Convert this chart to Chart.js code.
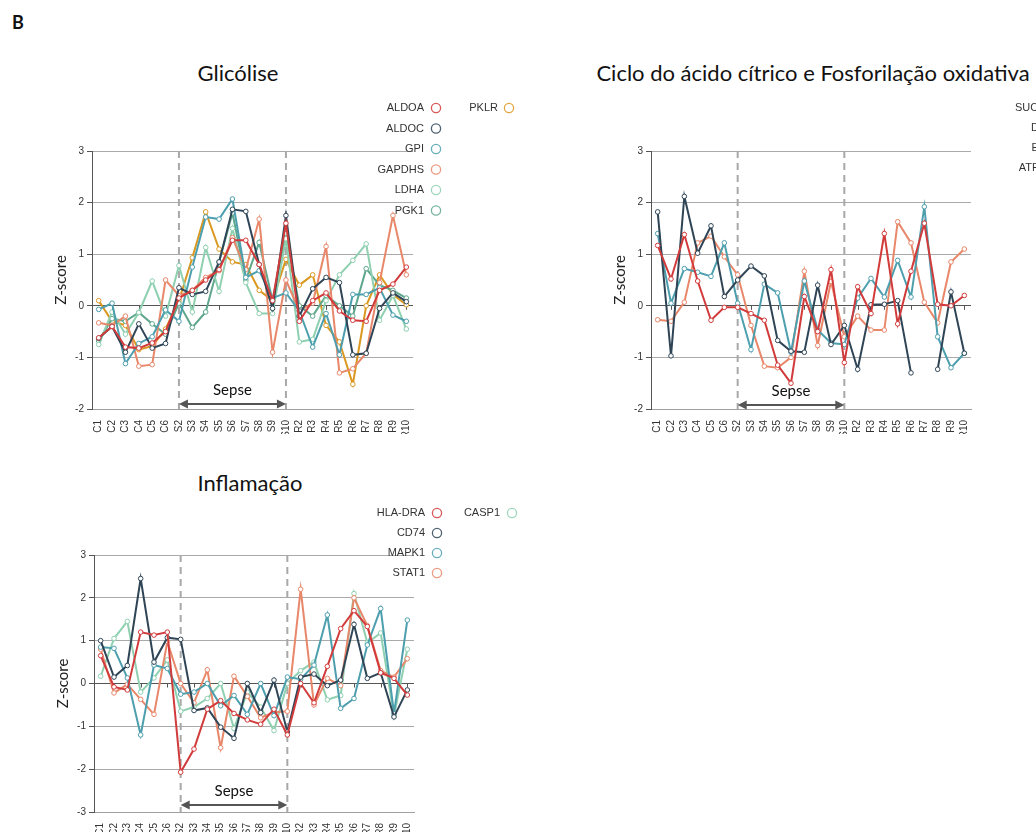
<!DOCTYPE html>
<html>
<head>
<meta charset="utf-8">
<script src="https://cdn.jsdelivr.net/npm/chart.js@4.4.1/dist/chart.umd.min.js"></script>
<style>
  body { margin: 0; background: #fff; }
  #wrap { position: relative; width: 1036px; height: 833px; overflow: hidden; }
  canvas { position: absolute; }
  .t { position: absolute; font-family: Lato, sans-serif; font-size: 22px; line-height: 22px; color: #111; white-space: nowrap; transform: translateX(-50%); }
  #lbl { position: absolute; left: 12px; top: 13px; font-family: Lato, sans-serif; font-weight: bold; font-size: 18px; line-height: 18px; color: #111; }
</style>
</head>
<body>
<div id="wrap">
  <div id="lbl">B</div>
  <div class="t" style="left:238px; top:62px;">Glicólise</div>
  <div class="t" style="left:813px; top:62px;">Ciclo do ácido cítrico e Fosforilação oxidativa</div>
  <div class="t" style="left:250px; top:472px;">Inflamação</div>
  <canvas id="glic" width="540" height="350" style="left:0; top:90px;"></canvas>
  <canvas id="ciclo" width="476" height="350" style="left:560px; top:90px;"></canvas>
  <canvas id="infl" width="540" height="338" style="left:0; top:495px;"></canvas>
</div>
<script>
// amostras: controles, sepse, recuperação
const amostras = ['C1','C2','C3','C4','C5','C6','S2','S3','S4','S5','S6','S7','S8','S9','S10','R2','R3','R4','R5','R6','R7','R8','R9','R10'];

// Glicólise
const aldoa  = [-0.62,-0.4,-0.8,-0.82,-0.72,-0.5,0.15,0.3,0.5,0.7,1.27,1.27,0.8,0.1,1.6,-0.3,0.1,0.25,-0.1,-0.28,-0.3,0.3,0.42,0.75];
const aldoc  = [-0.63,-0.4,-0.9,-0.35,-0.82,-0.73,0.35,0.22,0.28,0.85,1.87,1.83,0.8,-0.05,1.75,-0.2,0.33,0.55,0.45,-0.95,-0.92,-0.05,0.25,0.08];
const gpi    = [-0.07,0.05,-1.12,-0.73,-0.6,-0.08,-0.3,0.75,1.72,1.68,2.07,0.55,0.68,0.15,0.25,-0.1,-0.8,-0.15,-0.95,0.22,0.22,0.35,-0.18,-0.3];
const gapdhs = [-0.33,-0.38,-0.2,-1.17,-1.14,0.5,0.2,0.3,0.55,0.68,1.32,0.7,1.68,-0.9,0.5,-0.1,0.05,1.15,-1.3,-1.22,-0.92,0.45,1.75,0.6];
const ldha   = [-0.75,-0.12,-0.55,-0.13,0.48,-0.2,0.78,-0.12,1.13,0.28,1.5,0.45,-0.15,-0.15,1.3,-0.7,-0.65,0.1,0.6,0.88,1.2,-0.28,0.2,-0.45];
const pgk1   = [-0.68,-0.25,-0.3,-0.13,-0.35,-0.55,0.05,-0.42,-0.12,0.85,1.8,0.5,1.23,0.1,1.4,0.0,-0.2,0.2,0.0,-0.2,0.72,0.4,0.3,0.15];
const pklr   = [0.1,-0.3,-0.38,-0.85,-0.78,-0.45,0.1,0.93,1.82,1.1,0.85,0.8,0.3,0.1,0.9,0.4,0.6,-0.38,-0.7,-1.52,0.0,0.6,0.22,0.02];

// Ciclo do ácido cítrico e fosforilação oxidativa
const suclg1 = [1.17,0.52,1.38,0.48,-0.28,-0.03,-0.03,-0.15,-0.28,-1.15,-1.5,0.18,-0.5,0.7,-1.1,0.37,-0.15,1.4,-0.35,0.67,1.6,0.03,0.0,0.2];
const dlst   = [1.82,-0.97,2.12,1.02,1.55,0.18,0.5,0.77,0.58,-0.67,-0.88,-0.9,0.4,-0.75,-0.38,-1.23,0.02,0.03,0.1,-1.3,null,-1.23,0.27,-0.92];
const etfa   = [1.4,0.05,0.72,0.65,0.57,1.22,0.05,-0.85,0.42,0.25,-0.9,0.48,-0.47,-0.72,-0.75,0.15,0.53,0.17,0.88,0.17,1.92,-0.6,-1.2,-0.92];
const atp5a1 = [-0.27,-0.3,0.07,1.22,1.35,0.95,0.6,-0.38,-1.17,-1.2,-1.0,0.67,-0.77,0.47,-0.6,-0.2,-0.47,-0.47,1.63,1.22,0.07,-0.33,0.85,1.1];

// Inflamação
const hlaDra = [0.65,-0.08,-0.15,1.2,1.13,1.2,-2.07,-1.53,-0.6,-0.4,-0.7,-0.85,-0.95,-0.6,-1.2,0.0,-0.45,0.4,1.28,1.7,1.33,0.25,0.12,-0.27];
const cd74   = [1.0,0.15,0.42,2.45,0.5,1.07,1.03,-0.63,-0.57,-1.02,-1.28,0.0,-0.68,0.08,-1.13,0.15,0.22,-0.05,0.08,1.38,0.12,0.25,-0.78,-0.15];
const mapk1  = [0.85,0.82,0.13,-1.2,0.43,0.35,-0.25,-0.2,0.0,-0.52,-0.28,-0.72,0.0,-0.75,0.15,0.1,0.43,1.6,-0.58,-0.35,0.9,1.75,-0.7,1.48];
const stat1  = [0.8,-0.22,-0.02,-0.37,-0.72,0.98,0.0,-0.45,0.32,-1.5,0.17,-0.3,-0.8,-0.67,-0.65,2.2,-0.5,0.12,-0.05,2.0,1.35,0.3,0.15,0.58];
const casp1  = [0.17,1.05,1.45,-0.2,0.13,0.55,-0.65,-0.55,-0.35,0.0,-1.05,-0.2,-0.55,-1.1,0.0,0.3,0.5,-0.38,-0.28,2.1,0.95,1.18,-0.75,0.8];

const cor = {
  red: '#d23b3b', dark: '#2f4556', teal: '#4d9fae', salmon: '#e8876a',
  light: '#8ed0b0', green: '#5ea68c', gold: '#db9820'
};

const fonteEixo = { family: 'Liberation Sans', size: 10 };

function serie(label, data, c) {
  return {
    label: label, data: data, borderColor: c, backgroundColor: '#fff',
    borderWidth: 2, pointRadius: 2.3, pointBorderWidth: 1,
    pointBackgroundColor: '#fff', pointBorderColor: c, tension: 0, spanGaps: false
  };
}

const decor = {
  id: 'decor',
  beforeDatasetsDraw(chart, args, o) {
    const ctx = chart.ctx, a = chart.chartArea, x = chart.scales.x, y = chart.scales.y;
    const x1 = x.getPixelForValue(6), x2 = x.getPixelForValue(14);
    const y0 = y.getPixelForValue(0);
    ctx.save();
    // marcas no zero
    ctx.strokeStyle = '#555'; ctx.lineWidth = 1;
    for (let i = 1; i < amostras.length; i += 2) {
      const px = Math.round(x.getPixelForValue(i)) + 0.5;
      ctx.beginPath(); ctx.moveTo(px, y0); ctx.lineTo(px, y0 + 4); ctx.stroke();
    }
    // linhas tracejadas
    ctx.strokeStyle = '#a8a8a8'; ctx.lineWidth = 2; ctx.setLineDash([7, 5]);
    [x1, x2].forEach(px => {
      ctx.beginPath(); ctx.moveTo(px, a.top); ctx.lineTo(px, a.bottom); ctx.stroke();
    });
    ctx.setLineDash([]);
    // seta Sepse
    const ya = a.bottom - o.seta;
    ctx.strokeStyle = '#555'; ctx.fillStyle = '#555'; ctx.lineWidth = 2;
    ctx.beginPath(); ctx.moveTo(x1 + 6, ya); ctx.lineTo(x2 - 6, ya); ctx.stroke();
    ctx.beginPath(); ctx.moveTo(x1, ya); ctx.lineTo(x1 + 9, ya - 4.5); ctx.lineTo(x1 + 9, ya + 4.5); ctx.closePath(); ctx.fill();
    ctx.beginPath(); ctx.moveTo(x2, ya); ctx.lineTo(x2 - 9, ya - 4.5); ctx.lineTo(x2 - 9, ya + 4.5); ctx.closePath(); ctx.fill();
    ctx.fillStyle = '#111'; ctx.font = '15px Lato'; ctx.textAlign = 'center'; ctx.textBaseline = 'middle';
    ctx.fillText('Sepse', (x1 + x2) / 2, ya - 14);
    ctx.restore();
  },
  afterDraw(chart, args, o) {
    const ctx = chart.ctx;
    ctx.save();
    ctx.font = '11px "Liberation Sans"'; ctx.textBaseline = 'middle'; ctx.textAlign = 'right';
    chart.data.datasets.forEach((ds, i) => {
      const p = o.legenda[i];
      ctx.fillStyle = '#333';
      ctx.fillText(ds.label, p[0], p[2]);
      ctx.globalAlpha = 0.85;
      ctx.strokeStyle = ds.borderColor; ctx.lineWidth = 1.3;
      ctx.beginPath(); ctx.arc(p[1], p[2], 4.6, 0, Math.PI * 2); ctx.stroke();
      ctx.globalAlpha = 1;
    });
    ctx.restore();
  }
};

function grafico(id, datasets, ymin, ymax, pad, xAlt, seta, legenda) {
  return new Chart(document.getElementById(id), {
    type: 'line',
    data: { labels: amostras, datasets: datasets },
    plugins: [decor],
    options: {
      responsive: false, animation: false, devicePixelRatio: 1,
      layout: { padding: pad },
      plugins: {
        legend: { display: false }, tooltip: { enabled: false },
        decor: { seta: seta, legenda: legenda }
      },
      scales: {
        x: {
          offset: true,
          grid: { display: false },
          border: { color: '#a0a0a0', width: 1 },
          ticks: { autoSkip: false, minRotation: 90, maxRotation: 90, color: '#333', font: fonteEixo, padding: 3 },
          afterFit: s => { s.height = xAlt; }
        },
        y: {
          min: ymin, max: ymax,
          ticks: { stepSize: 1, color: '#333', font: fonteEixo, padding: 3 },
          grid: {
            color: c => c.tick && c.tick.value === 0 ? '#555' : '#aaa',
            lineWidth: 1, tickLength: 5, tickColor: '#555'
          },
          border: { color: '#555', width: 1 },
          title: { display: true, text: 'Z-score', color: '#222', font: { family: 'Lato', size: 15 }, padding: 0 },
          afterFit: s => { s.width = 40; }
        }
      }
    }
  });
}

const col1 = [424, 436], col2 = [498, 509];
const linhas = [18, 38.5, 59, 79.5, 100, 120.5];

grafico('glic', [
  serie('ALDOA', aldoa, cor.red),
  serie('ALDOC', aldoc, cor.dark),
  serie('GPI', gpi, cor.teal),
  serie('GAPDHS', gapdhs, cor.salmon),
  serie('LDHA', ldha, cor.light),
  serie('PGK1', pgk1, cor.green),
  serie('PKLR', pklr, cor.gold)
], -2, 3, { left: 52, right: 127, top: 61, bottom: 6 }, 25, 5,
  [[...col1, linhas[0]], [...col1, linhas[1]], [...col1, linhas[2]], [...col1, linhas[3]], [...col1, linhas[4]], [...col1, linhas[5]], [...col2, linhas[0]]]);

grafico('ciclo', [
  serie('SUCLG1', suclg1, cor.red),
  serie('DLST', dlst, cor.dark),
  serie('ETFA', etfa, cor.teal),
  serie('ATP5A1', atp5a1, cor.salmon)
], -2, 3, { left: 51, right: 65, top: 61, bottom: 6 }, 25, 4,
  [[499, 511, 18], [499, 511, 38], [499, 511, 58], [499, 511, 78]]);

grafico('infl', [
  serie('HLA-DRA', hlaDra, cor.red),
  serie('CD74', cd74, cor.dark),
  serie('MAPK1', mapk1, cor.teal),
  serie('STAT1', stat1, cor.salmon),
  serie('CASP1', casp1, cor.light)
], -3, 3, { left: 54, right: 126, top: 60, bottom: 1 }, 20, 7,
  [[425, 437, 18], [425, 437, 38], [425, 437, 58], [425, 437, 78], [500, 512, 18]]);
</script>
</body>
</html>
